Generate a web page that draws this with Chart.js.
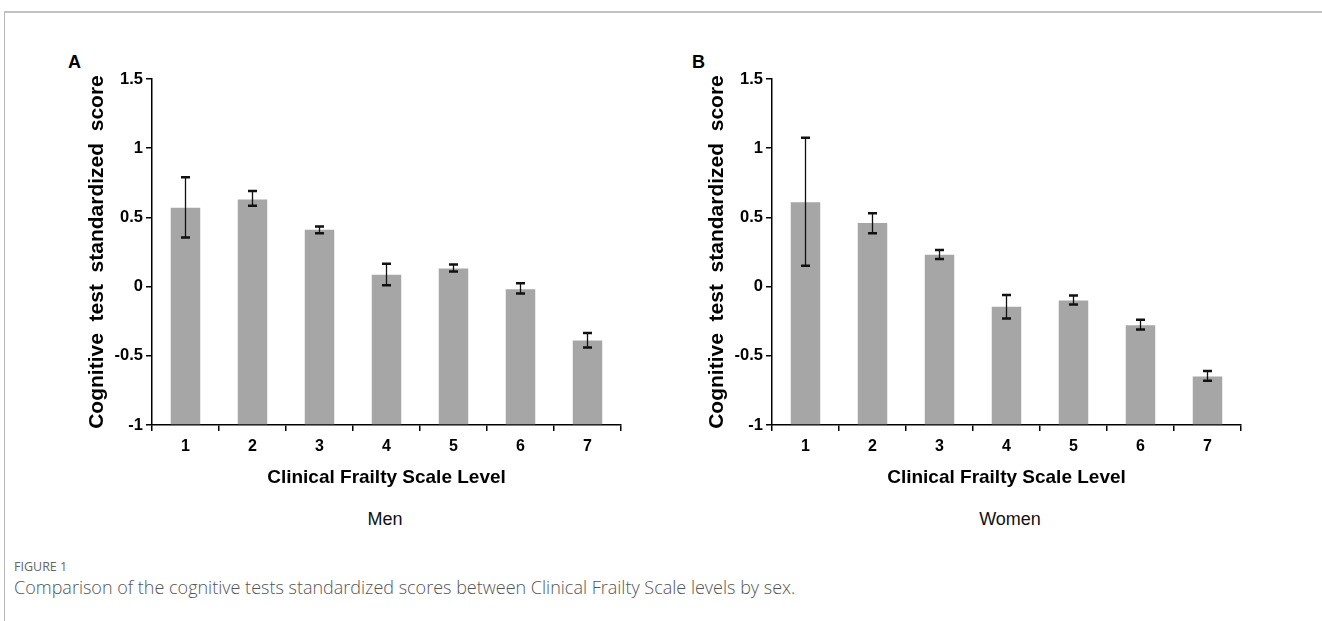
<!DOCTYPE html>
<html lang="en">
<head>
    <meta charset="UTF-8">
    <title>Figure 1</title>
    <script src="https://cdn.jsdelivr.net/npm/chart.js"></script>
    <style>
        body {
            margin: 0;
            padding: 0;
            background: #fff;
            width: 1322px;
            height: 621px;
            position: relative;
            overflow: hidden;
            font-family: "Liberation Sans", Arial, sans-serif;
        }
        .frame {
            position: absolute;
            left: 4px;
            top: 11px;
            right: -2px;
            bottom: -2px;
            border-left: 1px solid #b8b8b8;
            border-top: 2px solid #c2c2c2;
        }
        .panel-letter {
            position: absolute;
            font-weight: bold;
            font-size: 18px;
            color: #000;
        }
        .sex-label {
            position: absolute;
            width: 200px;
            text-align: center;
            font-size: 18px;
            color: #111;
        }
        canvas { position: absolute; }
        .fig-no {
            position: absolute;
            left: 14px;
            top: 558px;
            font-family: "Open Sans", "Noto Sans", sans-serif;
            font-size: 12.5px;
            color: #666;
        }
        .caption {
            position: absolute;
            left: 14px;
            top: 575px;
            font-family: "Open Sans", "Noto Sans", sans-serif;
            font-weight: 300;
            font-size: 18px;
            color: #555;
            white-space: nowrap;
        }
    </style>
</head>
<body>
    <div class="frame"></div>
    <div class="panel-letter" style="left:68px; top:52px;">A</div>
    <div class="panel-letter" style="left:692px; top:52px;">B</div>

    <canvas id="chartMen" width="550" height="435" style="left:82px; top:58px;"></canvas>
    <canvas id="chartWomen" width="550" height="435" style="left:702px; top:58px;"></canvas>

    <div class="sex-label" style="left:285px; top:509px;">Men</div>
    <div class="sex-label" style="left:910px; top:509px;">Women</div>

    <div class="fig-no">FIGURE 1</div>
    <div class="caption">Comparison of the cognitive tests standardized scores between Clinical Frailty Scale levels by sex.</div>

    <script>
        // data
        const cfsLevels = ["1", "2", "3", "4", "5", "6", "7"];
        const yTicks = [-1, -0.5, 0, 0.5, 1, 1.5];

        const menMean = [0.57, 0.63, 0.41, 0.085, 0.13, -0.02, -0.39];
        const menLow  = [0.355, 0.585, 0.385, 0.01, 0.11, -0.05, -0.44];
        const menHigh = [0.79, 0.69, 0.435, 0.165, 0.16, 0.025, -0.335];

        const womenMean = [0.61, 0.46, 0.23, -0.145, -0.10, -0.28, -0.65];
        const womenLow  = [0.15, 0.385, 0.20, -0.23, -0.13, -0.31, -0.68];
        const womenHigh = [1.075, 0.53, 0.265, -0.06, -0.065, -0.24, -0.61];

        const errorBars = {
            id: "errorBars",
            afterDatasetsDraw(chart) {
                const ctx = chart.ctx;
                const yScale = chart.scales.y;
                const meta = chart.getDatasetMeta(0);
                const low = chart.options.plugins.errorBars.low;
                const high = chart.options.plugins.errorBars.high;
                ctx.save();
                ctx.strokeStyle = "#111";
                meta.data.forEach((bar, i) => {
                    const yLo = yScale.getPixelForValue(low[i]);
                    const yHi = yScale.getPixelForValue(high[i]);
                    ctx.lineWidth = 1.3;
                    ctx.beginPath();
                    ctx.moveTo(bar.x, yLo);
                    ctx.lineTo(bar.x, yHi);
                    ctx.stroke();
                    ctx.lineWidth = 2.5;
                    ctx.beginPath();
                    ctx.moveTo(bar.x - 4.5, yLo);
                    ctx.lineTo(bar.x + 4.5, yLo);
                    ctx.moveTo(bar.x - 4.5, yHi);
                    ctx.lineTo(bar.x + 4.5, yHi);
                    ctx.stroke();
                });
                ctx.restore();
            }
        };

        function makeChart(id, means, low, high) {
            const ctx = document.getElementById(id).getContext("2d");
            return new Chart(ctx, {
                type: "bar",
                data: {
                    labels: cfsLevels,
                    datasets: [{
                        data: means,
                        base: -1,
                        backgroundColor: "#a6a6a6",
                        borderWidth: 0,
                        barPercentage: 0.44,
                        categoryPercentage: 1
                    }]
                },
                plugins: [errorBars],
                options: {
                    responsive: false,
                    devicePixelRatio: 1,
                    animation: false,
                    layout: { padding: { top: 21, right: 11, left: 0, bottom: 0 } },
                    plugins: {
                        legend: { display: false },
                        tooltip: { enabled: false },
                        errorBars: { low: low, high: high }
                    },
                    scales: {
                        x: {
                            grid: {
                                display: true,
                                drawOnChartArea: false,
                                drawTicks: true,
                                tickLength: 6,
                                color: "#000",
                                lineWidth: 1.5
                            },
                            border: { display: true, color: "#000", width: 1.5 },
                            ticks: {
                                color: "#000",
                                padding: 6,
                                font: { family: "Liberation Sans", size: 16, weight: "bold" }
                            },
                            title: {
                                display: true,
                                text: "Clinical Frailty Scale Level",
                                color: "#000",
                                padding: { top: 4, bottom: 4 },
                                font: { family: "Liberation Sans", size: 19, weight: "bold" }
                            },
                            afterFit(scale) { scale.height = 68; }
                        },
                        y: {
                            min: -1,
                            max: 1.5,
                            afterBuildTicks(scale) {
                                scale.ticks = yTicks.map(v => ({ value: v }));
                            },
                            grid: {
                                display: true,
                                drawOnChartArea: false,
                                drawTicks: true,
                                tickLength: 6,
                                color: "#000",
                                lineWidth: 1.5
                            },
                            border: { display: true, color: "#000", width: 1.5 },
                            ticks: {
                                color: "#000",
                                padding: 3,
                                callback: v => String(v),
                                font: { family: "Liberation Sans", size: 16.5, weight: "bold" }
                            },
                            title: {
                                display: true,
                                text: "Cognitive  test  standardized  score",
                                color: "#000",
                                padding: { top: 3, bottom: 4 },
                                font: { family: "Liberation Sans", size: 21, weight: "bold" }
                            },
                            afterFit(scale) { scale.width = 70; }
                        }
                    }
                }
            });
        }

        makeChart("chartMen", menMean, menLow, menHigh);
        makeChart("chartWomen", womenMean, womenLow, womenHigh);
    </script>
</body>
</html>
